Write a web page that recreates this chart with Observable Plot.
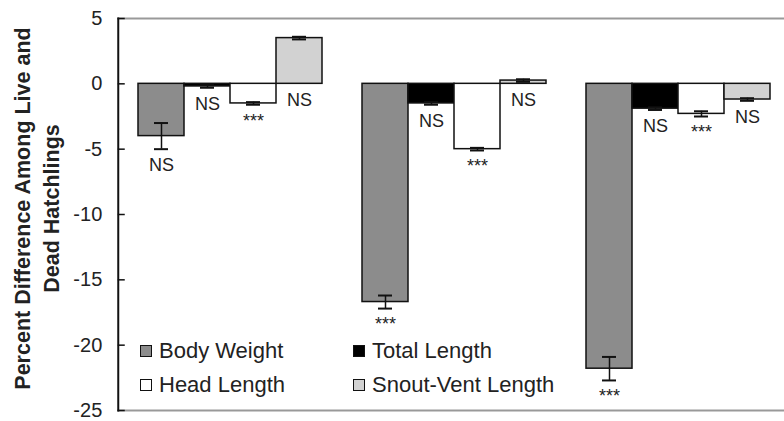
<!DOCTYPE html>
<html><head><meta charset="utf-8">
<script src="https://cdn.jsdelivr.net/npm/d3@7"></script>
<script src="https://cdn.jsdelivr.net/npm/@observablehq/plot@0.6"></script>
<style>
body{margin:0;background:#fff;font-family:"Liberation Sans",Arial,sans-serif;}
#wrap{position:relative;width:784px;height:421px;overflow:hidden;}
#legend{position:absolute;left:140px;top:338px;display:grid;grid-template-columns:213px auto;row-gap:8px;font-size:22px;color:#222;}
.item{display:flex;align-items:center;height:26px;}
.sw{width:10px;height:10px;border:1.5px solid #111;margin-right:7px;}
</style></head><body><div id="wrap"></div>
<script>
const groups = ["Group 1", "Group 2", "Group 3"];
const measures = ["Body Weight", "Total Length", "Head Length", "Snout-Vent Length"];
const colors = ["#8c8c8c", "#000000", "#ffffff", "#d2d2d2"];
const group1Values = [-4.0, -0.2, -1.5, 3.5];
const group2Values = [-16.7, -1.5, -5.0, 0.25];
const group3Values = [-21.8, -1.9, -2.3, -1.2];
const group1Errors = [1.0, 0.1, 0.1, 0.1];
const group2Errors = [0.5, 0.1, 0.1, 0.1];
const group3Errors = [0.9, 0.1, 0.2, 0.1];
const group1Labels = ["NS", "NS", "***", "NS"];
const group2Labels = ["***", "NS", "***", "NS"];
const group3Labels = ["***", "NS", "***", "NS"];
const yTicks = [5, 0, -5, -10, -15, -20, -25];
const yTitle = "Percent Difference Among Live and\nDead Hatchlings";

const values = [group1Values, group2Values, group3Values];
const errors = [group1Errors, group2Errors, group3Errors];
const labels = [group1Labels, group2Labels, group3Labels];
const rows = groups.flatMap((g, i) => measures.map((m, j) => ({
  group: g, measure: m, value: values[i][j], err: errors[i][j], label: labels[i][j]
})));

const W = 784, H = 421, ML = 118, MR = 0, MT = 18, MB = 11;
const fxOptions = {domain: groups, paddingInner: 0.17, paddingOuter: 0.0716, align: 0.6};
// gaps between the facets' outer edges and the plot frame (so frame lines and y axis reach the frame)
const fxProbe = Plot.scale({fx: {...fxOptions, range: [ML, W - MR]}});
const leftGap = fxProbe.apply(groups[0]) - ML;
const rightGap = (W - MR) - (fxProbe.apply(groups[groups.length - 1]) + fxProbe.bandwidth);
const frameInsets = {insetLeft: -leftGap, insetRight: -rightGap, facet: "super"};

const chart = Plot.plot({
  width: W, height: H,
  marginLeft: ML, marginRight: MR, marginTop: MT, marginBottom: MB,
  style: {fontFamily: "'Liberation Sans', Arial, sans-serif", background: "#fff", color: "#222"},
  fx: {...fxOptions, axis: null, label: null},
  x: {domain: measures, padding: 0, axis: null, label: null},
  y: {domain: [-25, 5], axis: null},
  color: {domain: measures, range: colors},
  marks: [
    Plot.frame({anchor: "top", stroke: "#999", strokeWidth: 2, ...frameInsets}),
    Plot.frame({anchor: "bottom", stroke: "#999", strokeWidth: 2, ...frameInsets}),
    Plot.frame({anchor: "left", stroke: "#111", strokeWidth: 2, ...frameInsets}),
    Plot.axisY({ticks: yTicks, dx: -leftGap, tickSize: -7, tickPadding: 23, fontSize: 20, stroke: "#111", strokeWidth: 1.5, label: null, tickFormat: d => d < 0 ? "-" + Math.abs(d) : String(d)}),
    Plot.barY(rows, {fx: "group", x: "measure", y: "value", fill: "measure", stroke: "#111", strokeWidth: 1.5}),
    Plot.ruleX(rows, {fx: "group", x: "measure", y1: d => d.value - d.err, y2: d => d.value + d.err, stroke: "#111", strokeWidth: 1.5}),
    Plot.tickY(rows, {fx: "group", x: "measure", y: d => d.value - d.err, insetLeft: 16, insetRight: 16, stroke: "#111", strokeWidth: 2}),
    Plot.tickY(rows, {fx: "group", x: "measure", y: d => d.value + d.err, insetLeft: 16, insetRight: 16, stroke: "#111", strokeWidth: 2}),
    Plot.text(rows, {fx: "group", x: "measure", y: d => Math.min(d.value - d.err, 0), text: "label", dy: 16, fontSize: 18, fill: "#222"}),
    Plot.text([yTitle], {frameAnchor: "left", textAnchor: "middle", lineAnchor: "middle", rotate: -90, dx: -83 - leftGap, dy: -6, fontWeight: "bold", fontSize: 21.5, lineHeight: 1.33, fill: "#222", facet: "super"})
  ]
});
const wrap = document.getElementById("wrap");
wrap.appendChild(chart);
const legend = document.createElement("div");
legend.id = "legend";
for (let i = 0; i < measures.length; i++) {
  const item = document.createElement("div");
  item.className = "item";
  const sw = document.createElement("span");
  sw.className = "sw";
  sw.style.background = colors[i];
  const t = document.createElement("span");
  t.textContent = measures[i];
  item.appendChild(sw); item.appendChild(t);
  legend.appendChild(item);
}
wrap.appendChild(legend);
</script></body></html>
